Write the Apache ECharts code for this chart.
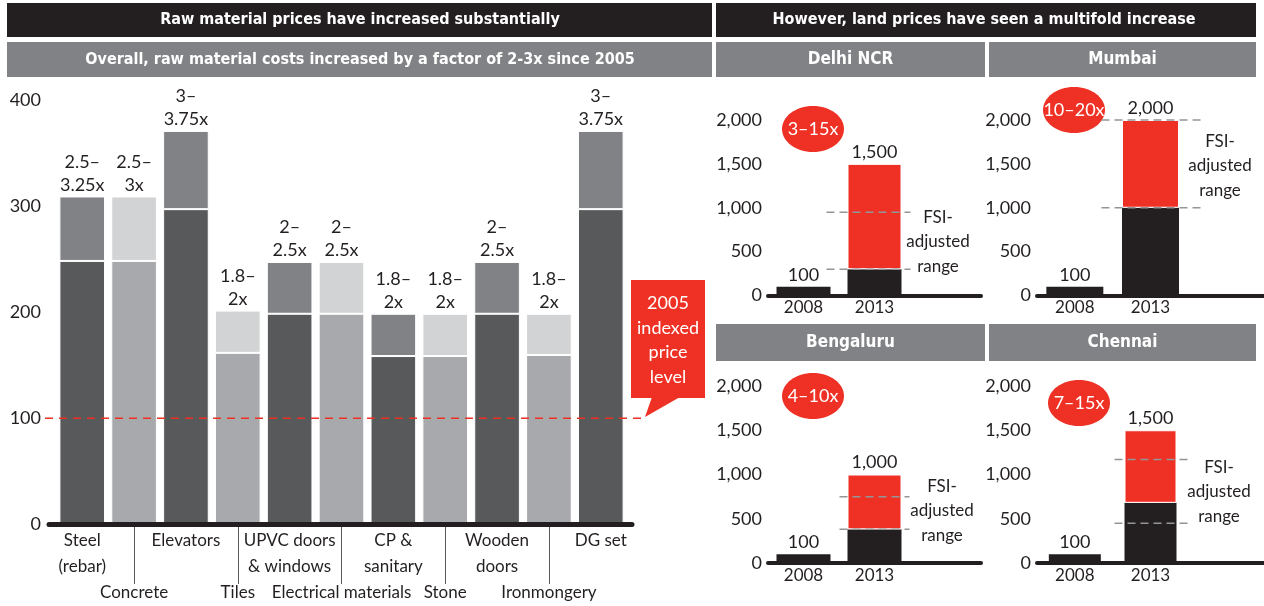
<!DOCTYPE html>
<html>
<head>
<meta charset="utf-8">
<script src="https://cdn.jsdelivr.net/npm/echarts@6/dist/echarts.min.js"></script>
<style>
  html, body { margin: 0; padding: 0; background: #fff; }
  #chart { width: 1264px; height: 606px; }
</style>
</head>
<body>
<div id="chart"></div>
<script>
// raw material index (2005 = 100)
const materials = ['Steel\n(rebar)', 'Concrete', 'Elevators', 'Tiles', 'UPVC doors\n& windows',
  'Electrical materials', 'CP &\nsanitary', 'Stone', 'Wooden\ndoors', 'Ironmongery', 'DG set'];
const priceLow = [248, 248, 297, 161, 198, 198, 158, 158, 198, 159, 297];
const priceHigh = [309, 309, 371, 201, 247, 247, 198, 198, 247, 198, 371];
const growthLabels = ['2.5–\n3.25x', '2.5–\n3x', '3–\n3.75x', '1.8–\n2x', '2–\n2.5x', '2–\n2.5x',
  '1.8–\n2x', '1.8–\n2x', '2–\n2.5x', '1.8–\n2x', '3–\n3.75x'];
const indexBase = 100;

// land prices
const cities = ['Delhi NCR', 'Mumbai', 'Bengaluru', 'Chennai'];
const landYears = ['2008', '2013'];
const land2008 = [100, 100, 100, 100];
const land2013Low = [300, 1000, 380, 680];
const land2013High = [1500, 2000, 1000, 1500];
const fsiLow = [300, 1000, 380, 450];
const fsiHigh = [950, 2000, 750, 1170];
const multiples = ['3–15x', '10–20x', '4–10x', '7–15x'];

const FONT = 'Lato, "Noto Sans", sans-serif';
const BOLD = '"Liberation Sans Narrow", "DejaVu Sans Condensed", Roboto, sans-serif';
const INK = '#231f20';
const RED = '#ee3124';
const GREY = '#808285';

// panel layout: grid box, bar width, dash extents, bubble + note positions
const panels = [
  { left: 768, top: 120, width: 213, height: 175.5, bar: 54, dash: [48, 36], bub: [813, 129], note: [938, 242] },
  { left: 1037, top: 120, width: 240, height: 175.5, bar: 57, dash: [49, 55], bub: [1074, 110], note: [1220, 166] },
  { left: 768, top: 386, width: 213, height: 177, bar: 54, dash: [35, 35], bub: [813, 396], note: [942, 511] },
  { left: 1037, top: 386, width: 240, height: 177, bar: 52, dash: [36, 37], bub: [1079, 403], note: [1219, 492] }
];
const headers = [
  { x: 716, y: 42, w: 269, h: 35 },
  { x: 989, y: 42, w: 267, h: 35 },
  { x: 716, y: 324, w: 269, h: 37 },
  { x: 989, y: 324, w: 267, h: 37 }
];

const grids = [
  { left: 56.3, top: 100.3, width: 570.4, height: 424 },
  { left: 49, top: 100.3, width: 583, height: 424 }
];
const xAxes = [
  {
    type: 'category', gridIndex: 0, data: materials,
    axisLine: { show: false },
    axisTick: {
      show: true, alignWithLabel: true, length: 61,
      interval: (i) => i % 2 === 1,
      lineStyle: { color: '#58595b', width: 1 }
    },
    axisLabel: {
      interval: 0, fontSize: 17, lineHeight: 26, margin: 5, color: INK,
      formatter: (v, i) => (i % 2 ? '\n\n' + v : v)
    }
  },
  {
    type: 'value', gridIndex: 1, min: 0, max: 1, z: 10,
    axisLine: { show: true, lineStyle: { color: INK, width: 5 } },
    axisTick: { show: false }, axisLabel: { show: false }, splitLine: { show: false }
  }
];
const yAxes = [
  { type: 'value', gridIndex: 0, min: 0, max: 400, interval: 100, show: false },
  {
    type: 'value', gridIndex: 1, min: 0, max: 400, interval: 100,
    axisLine: { show: false }, axisTick: { show: false }, splitLine: { show: false },
    axisLabel: { fontSize: 18, margin: 8, color: INK }
  }
];

const series = [
  {
    type: 'bar', xAxisIndex: 0, yAxisIndex: 0, stack: 'price', barCategoryGap: '12%',
    data: priceLow,
    itemStyle: {
      color: (p) => (p.dataIndex % 2 ? '#a7a9ac' : '#58595b'),
      borderColor: '#fff', borderWidth: 1
    }
  },
  {
    type: 'bar', xAxisIndex: 0, yAxisIndex: 0, stack: 'price',
    data: priceHigh.map((v, i) => v - priceLow[i]),
    itemStyle: {
      color: (p) => (p.dataIndex % 2 ? '#d1d3d4' : '#808285'),
      borderColor: '#fff', borderWidth: 1
    },
    label: {
      show: true, position: 'top', distance: 0, fontSize: 18, lineHeight: 23, color: INK,
      formatter: (p) => growthLabels[p.dataIndex]
    }
  },
  {
    type: 'custom', xAxisIndex: 1, yAxisIndex: 1, z: 11, clip: false,
    data: [[0, indexBase]],
    renderItem: (params, api) => {
      const y = api.coord([0, api.value(1)])[1];
      const cs = params.coordSys;
      return {
        type: 'line',
        shape: { x1: cs.x - 4, y1: y, x2: cs.x + cs.width + 11, y2: y },
        style: { stroke: RED, lineWidth: 1.5, lineDash: [8, 6] }
      };
    }
  }
];

const graphics = [
  { type: 'rect', shape: { x: 7, y: 3, width: 705, height: 34 }, style: { fill: INK } },
  { type: 'text', style: { text: 'Raw material prices have increased substantially', x: 360, y: 20,
    textAlign: 'center', verticalAlign: 'middle', fill: '#fff', font: 'bold 16px ' + BOLD } },
  { type: 'rect', shape: { x: 7, y: 42, width: 705, height: 35 }, style: { fill: GREY } },
  { type: 'text', style: { text: 'Overall, raw material costs increased by a factor of 2-3x since 2005', x: 360, y: 60,
    textAlign: 'center', verticalAlign: 'middle', fill: '#fff', font: 'bold 16px ' + BOLD } },
  { type: 'rect', shape: { x: 716, y: 3, width: 540, height: 34 }, style: { fill: INK } },
  { type: 'text', style: { text: 'However, land prices have seen a multifold increase', x: 984, y: 20,
    textAlign: 'center', verticalAlign: 'middle', fill: '#fff', font: 'bold 16px ' + BOLD } },
  // 2005 callout
  { type: 'rect', shape: { x: 631, y: 280, width: 74, height: 118 }, style: { fill: RED } },
  { type: 'polygon', shape: { points: [[652, 397], [680, 397], [645, 417]] }, style: { fill: RED } },
  { type: 'text', style: { text: '2005\nindexed\nprice\nlevel', x: 668, y: 340, textAlign: 'center',
    verticalAlign: 'middle', fill: '#fff', font: '18px ' + FONT, lineHeight: 24.5 } }
];

cities.forEach((city, i) => {
  const pl = panels[i];
  const gi = i + 2;
  const hd = headers[i];
  grids.push({ left: pl.left, top: pl.top, width: pl.width, height: pl.height });
  xAxes.push({
    type: 'category', gridIndex: gi, data: landYears.concat(['']),
    axisLine: { show: true, lineStyle: { color: INK, width: 4 } },
    axisTick: { show: false },
    axisLabel: { fontSize: 17, margin: 4, color: INK }
  });
  yAxes.push({
    type: 'value', gridIndex: gi, min: 0, max: 2000, interval: 500,
    axisLine: { show: false }, axisTick: { show: false }, splitLine: { show: false },
    axisLabel: { fontSize: 18, margin: 6, color: INK, formatter: (v) => v.toLocaleString('en-US') }
  });
  series.push({
    type: 'bar', xAxisIndex: gi, yAxisIndex: gi, stack: 'land' + i, barWidth: pl.bar,
    data: [land2008[i], land2013Low[i], null],
    itemStyle: { color: INK },
    label: { show: true, position: 'top', distance: 3, fontSize: 18, color: INK,
      formatter: (p) => (p.dataIndex === 0 ? p.value.toLocaleString('en-US') : '') }
  });
  series.push({
    type: 'bar', xAxisIndex: gi, yAxisIndex: gi, stack: 'land' + i, barWidth: pl.bar,
    data: [null, land2013High[i] - land2013Low[i], null],
    itemStyle: { color: RED, borderColor: '#fff', borderWidth: 1 },
    label: { show: true, position: 'top', distance: 3, fontSize: 18, color: INK,
      formatter: () => land2013High[i].toLocaleString('en-US') }
  });
  series.push({
    type: 'custom', xAxisIndex: gi, yAxisIndex: gi, z: 5, clip: false,
    data: [[landYears[1], fsiLow[i]], [landYears[1], fsiHigh[i]]],
    renderItem: (params, api) => {
      const p = api.coord([api.value(0), api.value(1)]);
      return {
        type: 'line',
        shape: { x1: p[0] - pl.dash[0], y1: p[1], x2: p[0] + pl.dash[1], y2: p[1] },
        style: { stroke: '#939598', lineWidth: 1.5, lineDash: [8, 5] }
      };
    }
  });
  graphics.push(
    { type: 'rect', shape: { x: hd.x, y: hd.y, width: hd.w, height: hd.h }, style: { fill: GREY } },
    { type: 'text', style: { text: city, x: hd.x + hd.w / 2, y: hd.y + hd.h / 2, textAlign: 'center',
      verticalAlign: 'middle', fill: '#fff', font: 'bold 17px ' + BOLD } },
    { type: 'ellipse', shape: { cx: pl.bub[0], cy: pl.bub[1], rx: 31, ry: 23 }, style: { fill: RED } },
    { type: 'text', style: { text: multiples[i], x: pl.bub[0], y: pl.bub[1], textAlign: 'center',
      verticalAlign: 'middle', fill: '#fff', font: '18px ' + FONT } },
    { type: 'text', style: { text: 'FSI-\nadjusted\nrange', x: pl.note[0], y: pl.note[1], textAlign: 'center',
      verticalAlign: 'middle', fill: INK, font: '17px ' + FONT, lineHeight: 24.5 } }
  );
});

const chart = echarts.init(document.getElementById('chart'));
chart.setOption({
  animation: false,
  textStyle: { fontFamily: FONT, color: INK },
  grid: grids,
  xAxis: xAxes,
  yAxis: yAxes,
  series: series,
  graphic: graphics
});
</script>
</body>
</html>
